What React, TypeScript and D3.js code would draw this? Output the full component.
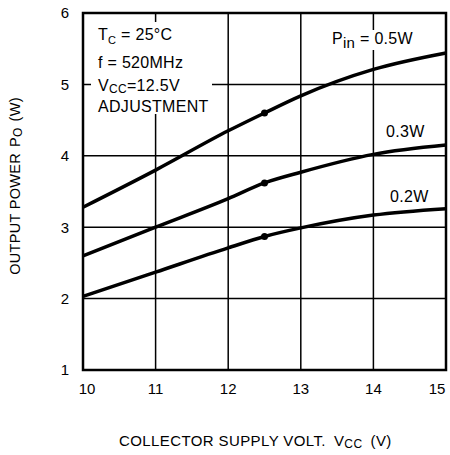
import React from "react";
import * as d3 from "d3";

const vcc = [10, 11, 12, 12.5, 13, 14, 15];
const p05 = [3.28, 3.8, 4.35, 4.6, 4.84, 5.21, 5.44];
const p03 = [2.6, 3.0, 3.4, 3.62, 3.77, 4.02, 4.15];
const p02 = [2.03, 2.37, 2.71, 2.87, 2.99, 3.17, 3.26];
const markerV = 12.5;
const xTicks = [10, 11, 12, 13, 14, 15];
const yTicks = [1, 2, 3, 4, 5, 6];

const FONT = "'Liberation Sans', Arial, Helvetica, sans-serif";

export default function App() {
  const W = 450, H = 455;
  const x = d3.scaleLinear().domain([10, 15]).range([83, 446]);
  const y = d3.scaleLinear().domain([1, 6]).range([370, 13]);
  const line = d3
    .line<number>()
    .x((_, i) => x(vcc[i]))
    .y((d) => y(d))
    .curve(d3.curveMonotoneX);
  const series = [p05, p03, p02];
  const mi = vcc.indexOf(markerV);
  return (
    <svg width={W} height={H} style={{ position: "absolute", left: 0, top: 0, background: "#fff" }} fontFamily={FONT}>
      <rect x={0} y={0} width={W} height={H} fill="#fff" />
      {xTicks.slice(1, -1).map((t) => (
        <line key={"gx" + t} x1={x(t)} x2={x(t)} y1={y(6)} y2={y(1)} stroke="#000" strokeWidth={1.5} />
      ))}
      {yTicks.slice(1, -1).map((t) => (
        <line key={"gy" + t} x1={x(10)} x2={x(15)} y1={y(t)} y2={y(t)} stroke="#000" strokeWidth={1.5} />
      ))}
      {/* annotation background */}
      <rect x={91} y={22} width={121} height={92} fill="#fff" />
      <rect x={328} y={30} width={90} height={20} fill="#fff" />
      {series.map((s, k) => (
        <path key={"s" + k} d={line(s) || ""} fill="none" stroke="#000" strokeWidth={3.5} />
      ))}
      {series.map((s, k) => (
        <circle key={"m" + k} cx={x(markerV)} cy={y(s[mi])} r={3.5} fill="#000" />
      ))}
      <rect x={x(10)} y={y(6)} width={x(15) - x(10)} height={y(1) - y(6)} fill="none" stroke="#000" strokeWidth={2.5} />
      {yTicks.map((t) => (
        <text key={"yt" + t} x={65} y={y(t)} dy="0.36em" textAnchor="middle" fontSize={15} fill="#000">
          {t}
        </text>
      ))}
      {xTicks.map((t, i) => (
        <text
          key={"xt" + t}
          x={i === xTicks.length - 1 ? x(t) - 9 : x(t) + (i === 0 ? 4 : 0)}
          y={394}
          textAnchor="middle"
          fontSize={15}
          fill="#000"
        >
          {t}
        </text>
      ))}
      <g fontSize={16} fill="#000" letterSpacing={0.3}>
        <text x={98} y={40}>
          T<tspan fontSize={11} dy={4}>C</tspan>
          <tspan dy={-4}> = 25°C</tspan>
        </text>
        <text x={98} y={68}>f = 520MHz</text>
        <text x={98} y={91}>
          V<tspan fontSize={12} dy={2}>CC</tspan>
          <tspan dy={-2}>=12.5V</tspan>
        </text>
        <text x={98} y={112}>ADJUSTMENT</text>
        <text x={332} y={44}>
          P<tspan fontSize={15} dy={4}>in</tspan>
          <tspan dy={-4}> = 0.5W</tspan>
        </text>
        <text x={386} y={137}>0.3W</text>
        <text x={390} y={202}>0.2W</text>
      </g>
      <text x={119} y={446} fontSize={15} fill="#000" letterSpacing={0.4}>
        COLLECTOR SUPPLY VOLT.
        <tspan dx={8}>V</tspan>
        <tspan fontSize={12} dy={2}>CC</tspan>
        <tspan dx={8} dy={-2}>(V)</tspan>
      </text>
      <text transform={`translate(20,186) rotate(-90)`} textAnchor="middle" fontSize={14.5} fill="#000" letterSpacing={0.3}>
        OUTPUT POWER
        <tspan dx={6}>P</tspan>
        <tspan fontSize={12} dy={2}>O</tspan>
        <tspan dx={6} dy={-2}>(W)</tspan>
      </text>
    </svg>
  );
}
